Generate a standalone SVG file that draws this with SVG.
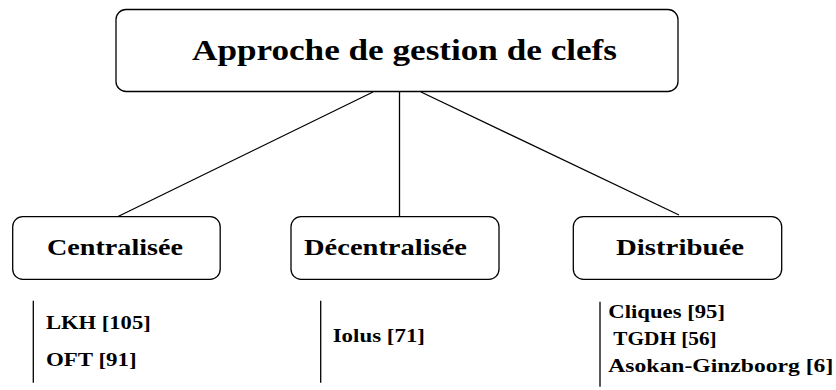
<svg xmlns="http://www.w3.org/2000/svg" width="836" height="390" viewBox="0 0 836 390">
<style>
.box{fill:#fff;stroke:#000;stroke-width:1.3}
.t{font-family:"Liberation Serif","Times New Roman",serif;font-weight:bold;fill:#000}
.title{font-size:30px}
.lbl{font-size:23px}
.item{font-size:18px}
.ln{stroke:#000;stroke-width:1.3;fill:none}
</style>
<rect width="836" height="390" fill="#fff"/>
<g id="connectors">
<line class="ln" x1="373" y1="92" x2="117" y2="217"/>
<line class="ln" x1="399.5" y1="92" x2="399.5" y2="217"/>
<line class="ln" x1="421" y1="92" x2="679" y2="215"/>
</g>
<g id="root">
<rect class="box" x="116" y="9.5" width="562" height="82" rx="10"/>
<text class="t title" x="192" y="60" textLength="425" lengthAdjust="spacingAndGlyphs">Approche de gestion de clefs</text>
</g>
<g id="centralisee">
<rect class="box" x="12.7" y="216.7" width="207.5" height="62.6" rx="10"/>
<text class="t lbl" x="47" y="255" textLength="136" lengthAdjust="spacingAndGlyphs">Centralisée</text>
</g>
<g id="decentralisee">
<rect class="box" x="291" y="216.7" width="208" height="62.6" rx="10"/>
<text class="t lbl" x="304" y="255" textLength="163" lengthAdjust="spacingAndGlyphs">Décentralisée</text>
</g>
<g id="distribuee">
<rect class="box" x="573.3" y="216.7" width="208.4" height="62.6" rx="10"/>
<text class="t lbl" x="616" y="255" textLength="128" lengthAdjust="spacingAndGlyphs">Distribuée</text>
</g>
<g id="list-centralisee">
<line class="ln" x1="33.3" y1="300.7" x2="33.3" y2="382.7"/>
<text class="t item" x="46" y="329.3" textLength="104.7" lengthAdjust="spacingAndGlyphs">LKH [105]</text>
<text class="t item" x="46" y="366" textLength="90.7" lengthAdjust="spacingAndGlyphs">OFT [91]</text>
</g>
<g id="list-decentralisee">
<line class="ln" x1="320.7" y1="300.7" x2="320.7" y2="382.7"/>
<text class="t item" x="332.7" y="341.7" textLength="92.3" lengthAdjust="spacingAndGlyphs">Iolus [71]</text>
</g>
<g id="list-distribuee">
<line class="ln" x1="600" y1="301.7" x2="600" y2="386.7"/>
<text class="t item" x="608.3" y="318.3" textLength="116.7" lengthAdjust="spacingAndGlyphs">Cliques [95]</text>
<text class="t item" x="613.3" y="345" textLength="103.4" lengthAdjust="spacingAndGlyphs">TGDH [56]</text>
<text class="t item" x="608.3" y="371.7" textLength="225" lengthAdjust="spacingAndGlyphs">Asokan-Ginzboorg [6]</text>
</g>
</svg>
